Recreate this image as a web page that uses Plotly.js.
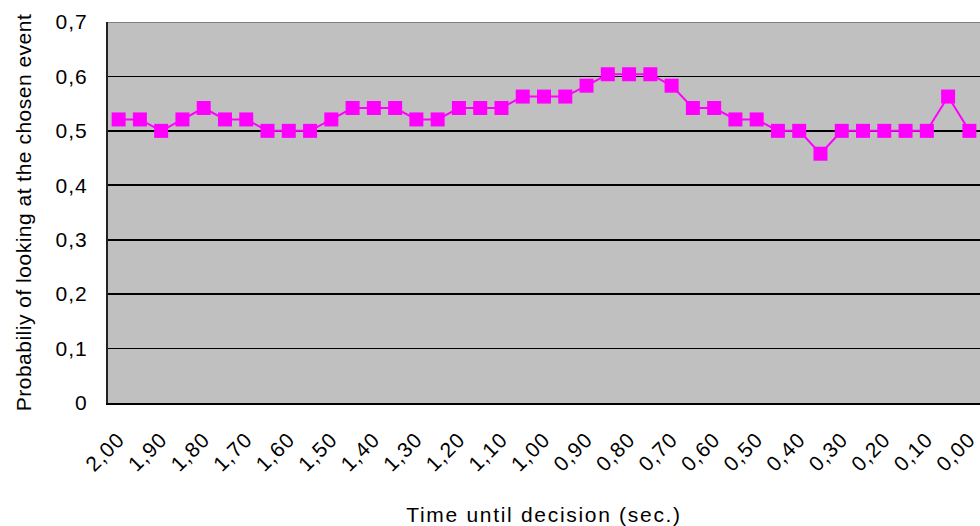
<!DOCTYPE html>
<html>
<head>
<meta charset="utf-8">
<script src="https://cdn.plot.ly/plotly-3.0.1.min.js"></script>
<style>
  html, body { margin: 0; padding: 0; background: #fff; overflow: hidden; }
  #chart { width: 980px; height: 526px; }
  .xtitle { letter-spacing: 1.7px; }
  .ytitle { letter-spacing: 0.5px; }
  .ytick text, .xtick text { letter-spacing: 1px; }
</style>
</head>
<body>
<div id="chart"></div>
<script>
// Time until decision (sec.) categories
const times = ["2,00","1,95","1,90","1,85","1,80","1,75","1,70","1,65","1,60","1,55",
               "1,50","1,45","1,40","1,35","1,30","1,25","1,20","1,15","1,10","1,05",
               "1,00","0,95","0,90","0,85","0,80","0,75","0,70","0,65","0,60","0,55",
               "0,50","0,45","0,40","0,35","0,30","0,25","0,20","0,15","0,10","0,05","0,00"];
// Probability of looking at the chosen event
const probability = [0.521,0.521,0.500,0.521,0.542,0.521,0.521,0.500,0.500,0.500,
                     0.521,0.542,0.542,0.542,0.521,0.521,0.542,0.542,0.542,0.563,
                     0.563,0.563,0.583,0.604,0.604,0.604,0.583,0.542,0.542,0.521,
                     0.521,0.500,0.500,0.458,0.500,0.500,0.500,0.500,0.500,0.563,0.500];
// Tick labels
const xTickLabels = ["2,00","1,90","1,80","1,70","1,60","1,50","1,40","1,30","1,20","1,10",
                     "1,00","0,90","0,80","0,70","0,60","0,50","0,40","0,30","0,20","0,10","0,00"];
const yTickVals = [0, 0.1, 0.2, 0.3, 0.4, 0.5, 0.6, 0.7];
const yTickText = ["0","0,1","0,2","0,3","0,4","0,5","0,6","0,7"];

const font = "Liberation Sans, Arial, sans-serif";

const trace = {
  x: times,
  y: probability,
  type: "scatter",
  mode: "lines+markers",
  line: { color: "#FF00FF", width: 2 },
  marker: { symbol: "square", size: 14, color: "#FF00FF" },
  hoverinfo: "x+y"
};

const layout = {
  width: 980,
  height: 526,
  margin: { l: 108, r: 0, t: 22, b: 123 },
  paper_bgcolor: "#ffffff",
  plot_bgcolor: "#C0C0C0",
  showlegend: false,
  font: { family: font, size: 20, color: "#000" },
  xaxis: {
    type: "category",
    categoryorder: "array",
    categoryarray: times,
    range: [-0.5, times.length - 0.5],
    tickmode: "array",
    tickvals: xTickLabels,
    ticktext: xTickLabels,
    tickangle: -45,
    ticks: "",
    ticklabelstandoff: 14,
    showgrid: false,
    showline: true,
    linecolor: "#000",
    linewidth: 2,
    zeroline: false,
    tickfont: { family: font, size: 21, color: "#000" },
    title: { text: "Time until decision (sec.)", font: { family: font, size: 21, color: "#000" }, standoff: 36 },
    automargin: false
  },
  yaxis: {
    range: [0, 0.7],
    tickmode: "array",
    tickvals: yTickVals,
    ticktext: yTickText,
    ticks: "",
    ticklabelstandoff: 14,
    showgrid: true,
    gridcolor: "#000",
    gridwidth: 1.6,
    showline: true,
    linecolor: "#222",
    linewidth: 2,
    zeroline: false,
    tickfont: { family: font, size: 21, color: "#000" },
    title: { text: "Probabiliy of looking at the chosen event", font: { family: font, size: 21, color: "#000" }, standoff: 18 },
    automargin: false
  },
  shapes: [
    { type: "line", xref: "paper", yref: "y", x0: 0, x1: 1, y0: 0.7, y1: 0.7,
      line: { color: "#808080", width: 2 }, layer: "above" }
  ]
};

Plotly.newPlot("chart", [trace], layout, { displayModeBar: false, staticPlot: true });
</script>
</body>
</html>
